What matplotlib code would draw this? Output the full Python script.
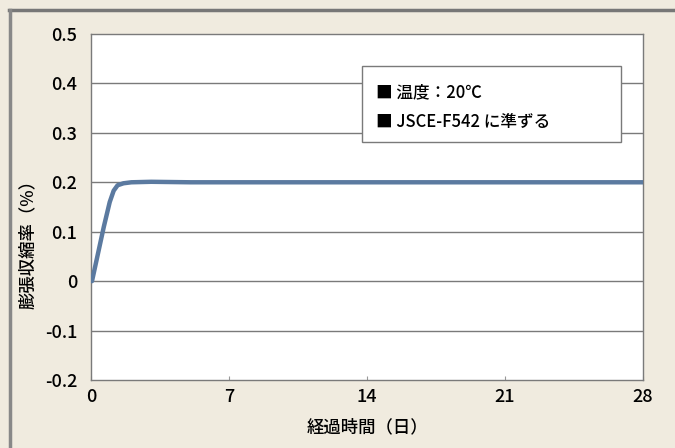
import matplotlib
matplotlib.use("Agg")
import matplotlib.pyplot as plt
from matplotlib.patches import Rectangle
from matplotlib.lines import Line2D

plt.rcParams['font.family'] = ['Noto Sans CJK JP', 'DejaVu Sans']

days = [0.0, 0.3, 0.6, 0.9, 1.1, 1.3, 1.6, 2.0, 3.0, 5.0, 7.0, 14.0, 21.0, 28.0]
rate = [0.0, 0.055, 0.11, 0.16, 0.183, 0.194, 0.198, 0.2, 0.201, 0.2, 0.2, 0.2, 0.2, 0.2]
xticks = [0, 7, 14, 21, 28]
yticks = [-0.2, -0.1, 0, 0.1, 0.2, 0.3, 0.4, 0.5]
ytick_labels = ['-0.2', '-0.1', '0', '0.1', '0.2', '0.3', '0.4', '0.5']
legend_lines = ['■ 温度：20℃', '■ JSCE-F542 に準ずる']
xlabel = '経過時間（日）'
ylabel = '膨張収縮率（%）'

bg = '#F0EBDF'
fig = plt.figure(figsize=(6.75, 4.48), dpi=100, facecolor=bg)
W, H = 675, 448
ax = fig.add_axes([91 / W, 1 - 380 / H, (643 - 91) / W, (380 - 34) / H])
ax.set_facecolor('white')

ax.plot([d + 0.05 for d in days], rate, color='#5B7AA0', lw=3.2, solid_capstyle='round', zorder=3)

ax.set_xlim(0, 28)
ax.set_ylim(-0.2, 0.5)
ax.set_xticks(xticks)
ax.set_xticklabels([str(t) for t in xticks], fontsize=13)
ax.set_yticks(yticks)
ax.set_yticklabels(ytick_labels, fontsize=13)
ax.tick_params(axis='x', direction='in', length=3, color='#999999', pad=6)
ax.tick_params(axis='y', length=0, pad=10)
for t in ax.get_xticklabels():
    t.set_fontweight('medium')
for t in ax.get_yticklabels():
    t.set_fontweight('medium')

for y in yticks[1:-1]:
    ax.axhline(y, color='#7a7a7a', lw=1.0, zorder=1)
for s in ax.spines.values():
    s.set_color('#7a7a7a')
    s.set_linewidth(1.0)

ax.set_xlabel(xlabel, fontsize=12.5, labelpad=6, fontweight='medium')
ax.set_ylabel(ylabel, fontsize=12.5, fontweight='medium')
ax.xaxis.set_label_coords(0.5, (380 - 427) / 346, transform=ax.transAxes)
ax.xaxis.label.set_va('center')
ax.yaxis.set_label_coords((28 - 91) / 552, (380 - 240) / 346)
ax.yaxis.label.set_va('center')

# legend box
x0, x1 = (362 - 91) / 552, (621 - 91) / 552
y0, y1 = (380 - 142) / 346, (380 - 66) / 346
ax.add_patch(Rectangle((x0, y0), x1 - x0, y1 - y0, transform=ax.transAxes,
                       facecolor='white', edgecolor='#7a7a7a', lw=1.0, zorder=4))
tx = (376 - 91) / 552
for i, txt in enumerate(legend_lines):
    ty = (380 - (92 + 30 * i)) / 346
    ax.text(tx, ty, txt, transform=ax.transAxes, fontsize=12, va='center', ha='left',
            zorder=5, fontweight='medium')

# figure border (top and left)
fig.add_artist(Line2D([9 / W, 1], [1 - 10 / H, 1 - 10 / H], color='#777777', lw=2.5))
fig.add_artist(Line2D([10 / W, 10 / W], [0, 1 - 10 / H], color='#888888', lw=2.5))

fig.savefig('out.png', dpi=100, facecolor=bg)
